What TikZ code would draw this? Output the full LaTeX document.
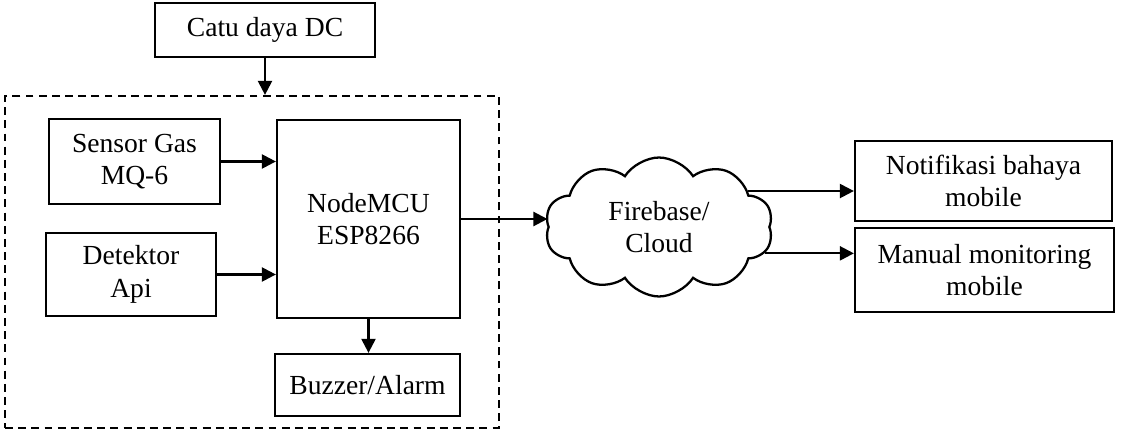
\documentclass[tikz,border=0pt]{standalone}
\usepackage{fontspec}
\setmainfont{Liberation Serif}
\usetikzlibrary{positioning,shapes.symbols,arrows.meta}

\begin{document}
\begin{tikzpicture}[
		x=0.02cm, y=-0.02cm,
		font=\fontsize{15.7}{18.5}\selectfont,
		blocknode/.style={draw=black, line width=1.3pt, align=center, inner sep=0pt},
		cloudnode/.style={cloud, cloud puffs=10, cloud puff arc=115, aspect=1.62, draw=black, line width=1.3pt, align=center, inner sep=0pt, minimum width=4.56cm, minimum height=2.78cm},
		arrowline/.style={line width=1.3pt, -{Triangle[length=8pt, width=8pt]}}
	]

	\useasboundingbox (0, 0) rectangle (1134, 432);

	% power supply and the dashed board
	\node[blocknode, minimum width=4.4cm, minimum height=1.08cm] (catu) at (265, 30) {Catu daya DC};
	\node[draw=black, line width=1.3pt, dash pattern=on 4.5pt off 3pt, minimum width=9.88cm, minimum height=6.64cm] (board) at (252, 262) {};

	% blocks on the board
	\node[blocknode, minimum width=3.42cm, minimum height=1.7cm] (sensor) at (134.5, 161.5) {Sensor Gas\\MQ-6};
	\node[blocknode, minimum width=3.4cm, minimum height=1.66cm] (detektor) at (131, 274.5) {Detektor\\Api};
	\node[blocknode, minimum width=3.66cm, minimum height=3.96cm] (mcu) at (368.5, 219) {NodeMCU\\ESP8266};
	\node[blocknode, minimum width=3.7cm, minimum height=1.24cm] (buzzer) at (367.5, 385) {Buzzer/Alarm};

	% cloud and outputs
	\node[cloudnode] (fb) at (659, 227) {Firebase/\\Cloud};
	\node[blocknode, minimum width=5.14cm, minimum height=1.6cm] (notif) at (983.5, 181) {Notifikasi bahaya\\mobile};
	\node[blocknode, minimum width=5.18cm, minimum height=1.68cm] (manual) at (984.5, 270) {Manual monitoring\\mobile};

	\draw[arrowline] (catu.south) -- (catu.south |- board.north);
	\draw[arrowline] (sensor.east) -- (sensor.east -| mcu.west);
	\draw[arrowline] (detektor.east) -- (detektor.east -| mcu.west);
	\draw[arrowline] (mcu.south) -- (mcu.south |- buzzer.north);
	\draw[arrowline] (mcu.east) -- (mcu.east -| fb.west);
	\draw[arrowline] (fb.22) -- (fb.22 -| notif.west);
	\draw[arrowline] (fb.-14) -- (fb.-14 -| manual.west);

\end{tikzpicture}
\end{document}
